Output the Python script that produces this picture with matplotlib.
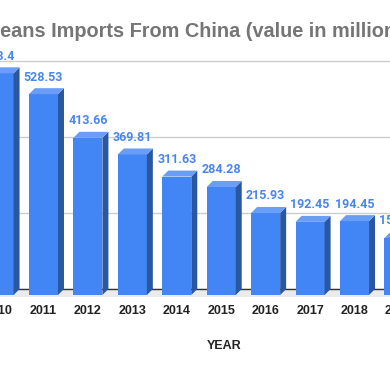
# Jeans imports from China, 3D-looking column chart (cropped view)
import matplotlib.pyplot as plt
from matplotlib.patches import Polygon

plt.rcParams['font.family'] = ['Roboto', 'DejaVu Sans']

years = ['2010', '2011', '2012', '2013', '2014', '2015', '2016', '2017', '2018', '2019']
values = [583.4, 528.53, 413.66, 369.81, 311.63, 284.28, 215.93, 192.45, 194.45, 150.11]
grid_values = [0, 200, 400, 600]

FRONT = '#4285f4'
SIDE = '#2b56a0'
TOP = '#6a9df6'
LABEL = '#4a86ec'
ARIAL = ['Liberation Sans', 'DejaVu Sans']
W = 0.653   # front face width (categories)
DX = 0.135  # depth, categories
DY = 15.8   # depth, value units

fig = plt.figure(figsize=(3.9, 3.71), dpi=100)
ax = fig.add_axes([-0.1164, 0.2005, 1.2533, 0.6863])
ax.set_xlim(-1, 10)
ax.set_ylim(-20, 650)

ax.set_yticks(grid_values)
ax.yaxis.grid(True, color='#cccccc', linewidth=1)
ax.set_axisbelow(True)
ax.tick_params(axis='y', length=0, labelleft=False)
for s in ax.spines.values():
    s.set_visible(False)

# floor
ax.axhspan(-26, 0, color='#ebebeb', zorder=1, linewidth=0)
ax.axhline(0, color='#333333', linewidth=1, zorder=1.5)

xs = list(range(len(years)))
ax.bar(xs, values, width=W, bottom=-DY, color=FRONT, zorder=3)
for x, v in zip(xs, values):
    r = x + W / 2
    l = x - W / 2
    ax.add_patch(Polygon([(r, -DY), (r + DX, 0), (r + DX, v), (r, v - DY)],
                         closed=True, color=SIDE, zorder=3, linewidth=0))
    ax.add_patch(Polygon([(l, v - DY), (r, v - DY), (r + DX, v), (l + DX, v)],
                         closed=True, color=TOP, zorder=3, linewidth=0))
    ax.annotate(f'{v:g}', xy=(x, v), xytext=(0, 7.5), textcoords='offset pixels',
                ha='center', va='baseline', fontsize=9, fontweight='bold',
                color=LABEL, annotation_clip=False)

ax.set_xticks(xs, years)
ax.tick_params(axis='x', length=0, pad=6, labelsize=9, labelcolor='#222222')
for t in ax.get_xticklabels():
    t.set_fontweight('bold')
    t.set_family(ARIAL)

fig.text(224.5 / 390, 1 - 349 / 371, 'YEAR', ha='center', va='baseline',
         fontsize=9, fontweight='bold', color='#222222', family=ARIAL)

# title starts off the left edge: push the first letter out of view
title_kw = dict(fontsize=14.3, fontweight='bold', color='#757575', va='baseline',
                family=ARIAL)
renderer = fig.canvas.get_renderer()
probe = fig.text(0, 0, 'J', **title_kw)
jw = probe.get_window_extent(renderer).width
probe.remove()
fig.text(-jw / 390, 1 - 36.7 / 371, 'Jeans Imports From China (value in million USD)',
         ha='left', **title_kw)

fig.savefig('out.png', dpi=100)
